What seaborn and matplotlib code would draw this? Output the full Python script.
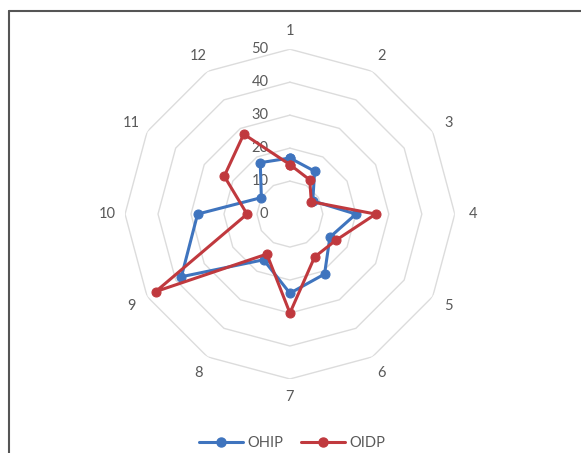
import numpy as np
import pandas as pd
import matplotlib
matplotlib.use("Agg")
import matplotlib.pyplot as plt
import seaborn as sns

categories = ["1", "2", "3", "4", "5", "6", "7", "8", "9", "10", "11", "12"]
ohip = [17, 15, 8, 20, 14, 21, 24, 16, 38, 28, 10, 18]
oidp = [15, 12, 7.5, 26, 16, 15, 30, 14, 47, 13, 23, 28]
ring_values = [0, 10, 20, 30, 40, 50]

series = {"OHIP": ohip, "OIDP": oidp}
colors = {"OHIP": "#3F74BE", "OIDP": "#C0393E"}

sns.set_theme(style="white")
plt.rcParams["font.family"] = ["Lato", "DejaVu Sans"]

n = len(categories)
angles = np.linspace(0, 2 * np.pi, n, endpoint=False)

rows = []
for name, vals in series.items():
    for i in range(n + 1):
        k = i % n
        rows.append({"series": name, "theta": angles[k] if i < n else 2 * np.pi,
                     "value": vals[k], "order": i})
df = pd.DataFrame(rows)

fig = plt.figure(figsize=(5.81, 4.53), dpi=100)
ax = fig.add_axes([0.215, 0.1634, 0.568, 0.728], projection="polar")
ax.set_theta_zero_location("N")
ax.set_theta_direction(-1)
ax.set_ylim(0, 50)
ax.grid(False)
ax.spines["polar"].set_visible(False)
ax.set_xticks([])
ax.set_yticks([])
ax.patch.set_alpha(0)

# dodecagon gridlines
closed = np.append(angles, 2 * np.pi)
for r in ring_values[1:]:
    ax.plot(closed, [r] * len(closed), color="#DCDCDC", lw=1.0, zorder=1)

# ring value labels along the first spoke
for r in ring_values:
    ax.annotate(str(r), xy=(0, r), xytext=(-15.5, 0), textcoords="offset points",
                ha="right", va="center", fontsize=10.5, color="#595959")

# category labels
for a, lab in zip(angles, categories):
    ax.text(a, 55.5, lab, ha="center", va="center", fontsize=10.5, color="#595959")

for name in series:
    sub = df[df["series"] == name].sort_values("order")
    sns.lineplot(data=sub, x="theta", y="value", sort=False, estimator=None,
                 ax=ax, color=colors[name], lw=2.2, marker="o", markersize=6.5,
                 markeredgecolor=colors[name], label=name, zorder=3)

ax.set_xlabel("")
ax.set_ylabel("")
ax.legend_.remove()

handles = [plt.Line2D([0], [0], color=colors[k], lw=2.2, marker="o", markersize=6.5)
           for k in series]
fig.legend(handles, list(series), loc="center", bbox_to_anchor=(0.503, 0.022),
           ncol=2, frameon=False, fontsize=10.5, handlelength=3.0, columnspacing=1.2,
           handletextpad=0.3, labelcolor="#595959")

# chart frame (top and left edges)
fig.add_artist(plt.Line2D([0.0155, 0.0155], [0, 0.976], color="#555555", lw=1.5,
                          transform=fig.transFigure))
fig.add_artist(plt.Line2D([0.0155, 1.0], [0.976, 0.976], color="#555555", lw=1.5,
                          transform=fig.transFigure))

fig.savefig("out.png", dpi=100)
